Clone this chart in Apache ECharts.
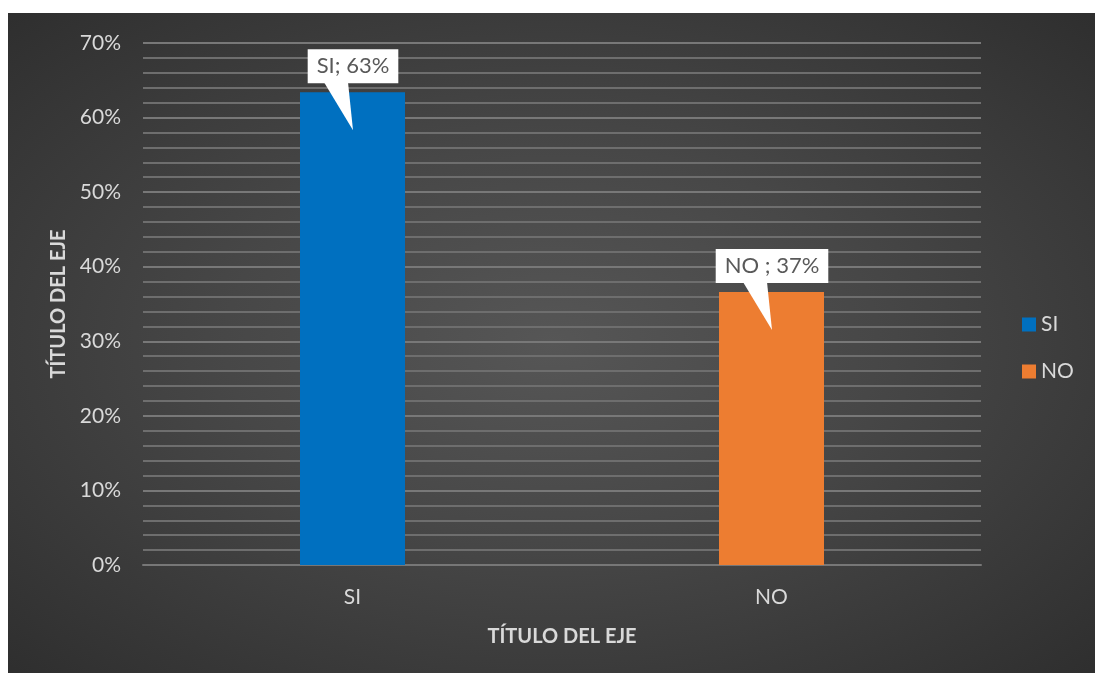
<!DOCTYPE html>
<html><head><meta charset="utf-8">
<script src="https://cdn.jsdelivr.net/npm/echarts@6/dist/echarts.min.js"></script>
<style>
html,body{margin:0;padding:0;background:#fff;width:1095px;height:673px;overflow:hidden}
#c{position:absolute;left:8px;top:13px;width:1087px;height:660px;
background:radial-gradient(ellipse 75% 75% at 50% 50%, #565656 0%, #474747 40%, #2c2c2c 100%);}
</style></head><body>
<div id="c"></div>
<script>
const categories = ['SI', 'NO'];
const seriesNames = ['SI', 'NO'];
const values = [0.634, 0.366];
const labelTexts = ['SI; 63%', 'NO ; 37%'];
const yTicks = [0, 0.1, 0.2, 0.3, 0.4, 0.5, 0.6, 0.7];
const colors = ['#0070C0', '#ED7D31'];

const FONT = 'Lato';
const chart = echarts.init(document.getElementById('c'), null, {renderer: 'canvas'});

const barSeries = seriesNames.map((n, i) => ({
  name: n, type: 'bar', stack: 'all', barWidth: 105,
  itemStyle: {color: colors[i]},
  data: categories.map((c, j) => j === i ? values[i] : '-'),
  z: 2
}));

const calloutData = categories.map((c, i) => [i, values[i], labelTexts[i]]);

const option = {
  animation: false,
  textStyle: {fontFamily: FONT},
  grid: {left: 135, right: 114, top: 30, bottom: 108},
  legend: {
    orient: 'vertical', left: 1014, top: 301, padding: 0, itemWidth: 14, itemHeight: 14, itemGap: 26,
    icon: 'rect', data: seriesNames,
    textStyle: {color: '#D9D9D9', fontSize: 21, fontFamily: FONT}
  },
  xAxis: {
    type: 'category', data: categories,
    axisLine: {show: true, lineStyle: {color: '#777', width: 2}},
    axisTick: {show: false},
    axisLabel: {color: '#D9D9D9', fontSize: 21, fontFamily: FONT, margin: 22},
    name: 'TÍTULO DEL EJE', nameLocation: 'middle', nameGap: 62,
    nameTextStyle: {color: '#D9D9D9', fontSize: 20, fontWeight: 'bold', fontFamily: FONT}
  },
  yAxis: {
    type: 'value', min: 0, max: 0.7, interval: 0.1,
    axisLabel: {color: '#D9D9D9', fontSize: 21, fontFamily: FONT, margin: 22,
      formatter: v => Math.round(v * 100) + '%'},
    axisLine: {show: false}, axisTick: {show: false},
    splitLine: {show: true, lineStyle: {color: '#787878', width: 2}},
    minorTick: {show: false, splitNumber: 5},
    minorSplitLine: {show: true, lineStyle: {color: '#6e6e6e', width: 2}},
    name: 'TÍTULO DEL EJE', nameLocation: 'middle', nameGap: 72, nameRotate: 90,
    nameTextStyle: {color: '#D9D9D9', fontSize: 20, fontWeight: 'bold', fontFamily: FONT}
  },
  series: barSeries.concat([{
    type: 'custom', z: 5, silent: true,
    data: calloutData,
    renderItem: function (params, api) {
      const p = api.coord([api.value(0), api.value(1)]);
      const cx = p[0] + 0.5, top = p[1];
      const boxBottom = top - 9;
      const txt = calloutData[params.dataIndex][2];
      return {
        type: 'group',
        children: [
          {type: 'polygon', shape: {points: [[cx - 29, boxBottom - 1], [cx - 5, boxBottom - 1], [cx, top + 38]]},
           style: {fill: '#fff'}},
          {type: 'text', x: cx, y: boxBottom,
           style: {text: txt, fill: '#595959', font: '22px ' + FONT, align: 'center', verticalAlign: 'bottom',
             backgroundColor: '#fff', padding: [6, 9, 6, 9]}}
        ]
      };
    }
  }])
};
chart.setOption(option);
</script>
</body></html>
